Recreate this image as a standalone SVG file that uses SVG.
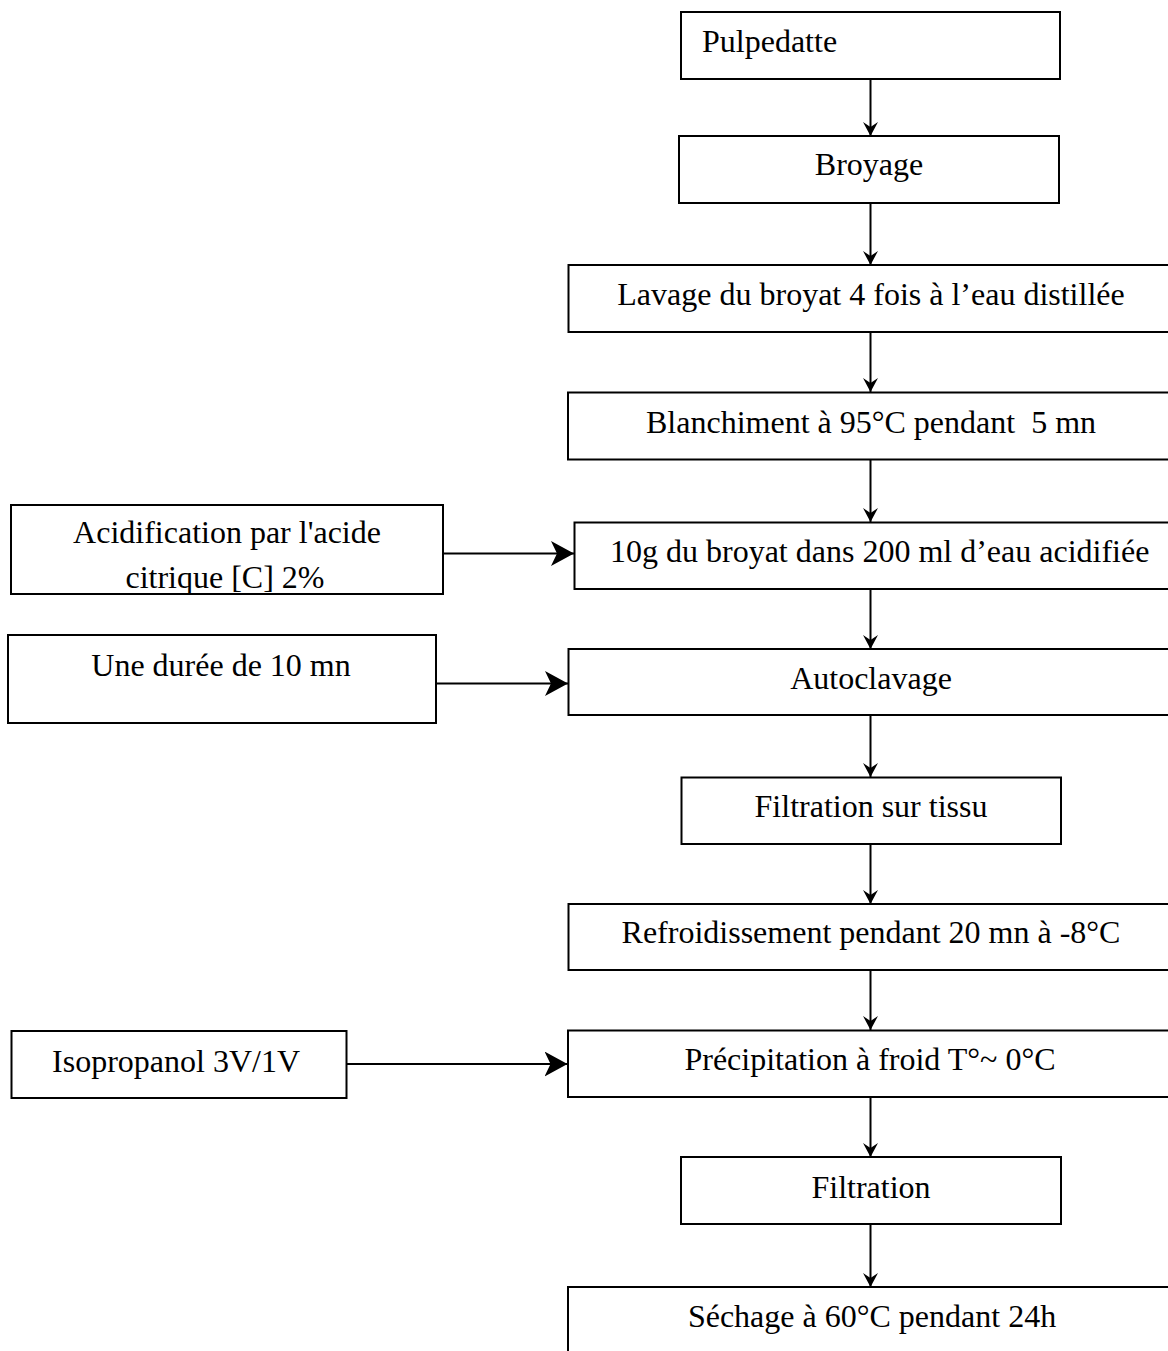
<svg xmlns="http://www.w3.org/2000/svg" width="1168" height="1351" viewBox="0 0 1168 1351">
  <style>
    .box { fill: #ffffff; stroke: #000000; stroke-width: 2; }
    .lbl { font-family: "Liberation Serif", "Times New Roman", serif; font-size: 32px; fill: #000000; }
    .mid { text-anchor: middle; }
    .conn { stroke: #000000; stroke-width: 2; fill: none; }
    .v { marker-end: url(#arrS); }
    .h { marker-end: url(#arrL); }
  </style>
  <defs>
    <marker id="arrS" markerUnits="userSpaceOnUse" markerWidth="14" markerHeight="15" refX="14" refY="7.5" orient="auto">
      <path d="M0,0 L14,7.5 L0,15 L5,7.5 Z" fill="#000000"/>
    </marker>
    <marker id="arrL" markerUnits="userSpaceOnUse" markerWidth="23" markerHeight="25" refX="23" refY="12.5" orient="auto">
      <path d="M0,0 L23,12.5 L0,25 L6,12.5 Z" fill="#000000"/>
    </marker>
    <clipPath id="clipAcid">
      <rect x="12" y="506" width="430" height="87"/>
    </clipPath>
  </defs>
  <rect x="0" y="0" width="1168" height="1351" fill="#ffffff"/>

  <g id="connectors">
    <line class="conn v" x1="870.5" y1="79" x2="870.5" y2="136"/>
    <line class="conn v" x1="870.5" y1="203" x2="870.5" y2="265"/>
    <line class="conn v" x1="870.5" y1="332" x2="870.5" y2="392"/>
    <line class="conn v" x1="870.5" y1="459.5" x2="870.5" y2="522"/>
    <line class="conn v" x1="870.5" y1="589" x2="870.5" y2="649"/>
    <line class="conn v" x1="870.5" y1="715" x2="870.5" y2="777"/>
    <line class="conn v" x1="870.5" y1="844" x2="870.5" y2="904"/>
    <line class="conn v" x1="870.5" y1="970" x2="870.5" y2="1030"/>
    <line class="conn v" x1="870.5" y1="1097" x2="870.5" y2="1157"/>
    <line class="conn v" x1="870.5" y1="1224" x2="870.5" y2="1287"/>
    <line class="conn h" x1="443" y1="553.5" x2="574" y2="553.5"/>
    <line class="conn h" x1="436" y1="683.5" x2="568" y2="683.5"/>
    <line class="conn h" x1="346" y1="1064" x2="567.5" y2="1064"/>
  </g>

  <g id="n-pulpedatte">
    <rect class="box" x="681" y="12" width="379" height="67"/>
    <text class="lbl" x="702" y="52">Pulpedatte</text>
  </g>
  <g id="n-broyage">
    <rect class="box" x="679" y="136" width="380" height="67"/>
    <text class="lbl mid" x="869" y="175">Broyage</text>
  </g>
  <g id="n-lavage">
    <rect class="box" x="568.5" y="265" width="610" height="67"/>
    <text class="lbl mid" x="871" y="305">Lavage du broyat 4 fois à l’eau distillée</text>
  </g>
  <g id="n-blanchiment">
    <rect class="box" x="568" y="392.5" width="610" height="67"/>
    <text class="lbl" x="646" y="432.5" xml:space="preserve">Blanchiment à 95°C pendant  5 mn</text>
  </g>
  <g id="n-broyat-eau">
    <rect class="box" x="574.5" y="522.5" width="610" height="66.5"/>
    <text class="lbl" x="610" y="561.5">10g du broyat dans 200 ml d’eau acidifiée</text>
  </g>
  <g id="n-acidification">
    <rect class="box" x="11" y="505" width="432" height="89"/>
    <g clip-path="url(#clipAcid)">
      <text class="lbl mid" x="227" y="543">Acidification par l'acide</text>
      <text class="lbl mid" x="225" y="588">citrique [C] 2%</text>
    </g>
  </g>
  <g id="n-autoclavage">
    <rect class="box" x="568.5" y="649" width="610" height="66"/>
    <text class="lbl mid" x="871" y="689">Autoclavage</text>
  </g>
  <g id="n-duree">
    <rect class="box" x="8" y="635" width="428" height="88"/>
    <text class="lbl mid" x="221" y="676">Une durée de 10 mn</text>
  </g>
  <g id="n-filtration-tissu">
    <rect class="box" x="681.5" y="777.5" width="379.5" height="66.5"/>
    <text class="lbl mid" x="871" y="817">Filtration sur tissu</text>
  </g>
  <g id="n-refroidissement">
    <rect class="box" x="568.5" y="904" width="610" height="66"/>
    <text class="lbl mid" x="871" y="943">Refroidissement pendant 20 mn à -8°C</text>
  </g>
  <g id="n-precipitation">
    <rect class="box" x="568" y="1030.5" width="610" height="66.5"/>
    <text class="lbl mid" x="870" y="1070">Précipitation à froid T°~ 0°C</text>
  </g>
  <g id="n-isopropanol">
    <rect class="box" x="11.5" y="1031" width="335" height="67"/>
    <text class="lbl mid" x="176" y="1072">Isopropanol 3V/1V</text>
  </g>
  <g id="n-filtration">
    <rect class="box" x="681" y="1157" width="380" height="67"/>
    <text class="lbl mid" x="871" y="1198">Filtration</text>
  </g>
  <g id="n-sechage">
    <rect class="box" x="568" y="1287" width="610" height="100"/>
    <text class="lbl mid" x="872" y="1327">Séchage à 60°C pendant 24h</text>
  </g>
</svg>
